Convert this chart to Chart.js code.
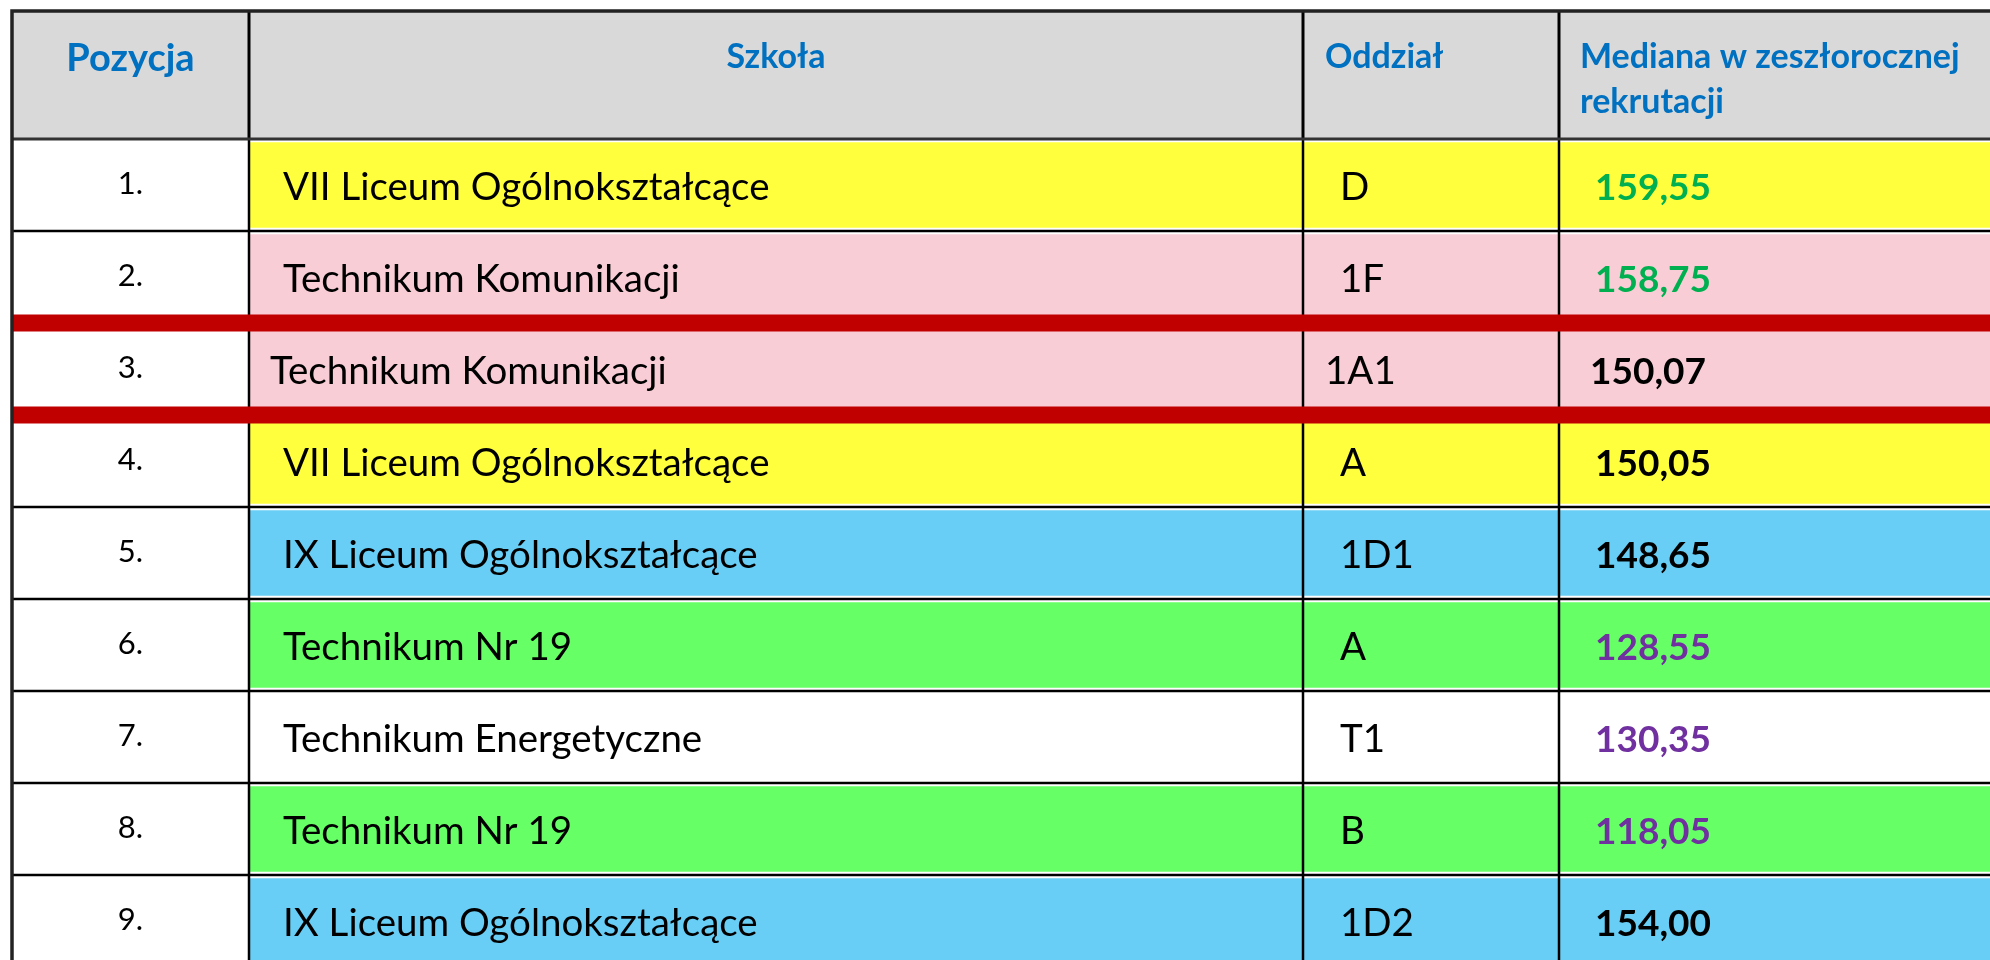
<!DOCTYPE html>
<html>
<head>
<meta charset="utf-8">
<script src="https://cdn.jsdelivr.net/npm/chart.js@4.4.1/dist/chart.umd.min.js"></script>
<style>
  html, body { margin: 0; padding: 0; background: #fff; }
  canvas { display: block; }
</style>
</head>
<body>
<canvas id="table" width="1990" height="960"></canvas>
<script>
// table content
const HEADERS = ["Pozycja", "Szkoła", "Oddział", "Mediana w zeszłorocznej\nrekrutacji"];
const POSITIONS = ["1.", "2.", "3.", "4.", "5.", "6.", "7.", "8.", "9."];
const SCHOOLS = [
  "VII Liceum Ogólnokształcące",
  "Technikum Komunikacji",
  "Technikum Komunikacji",
  "VII Liceum Ogólnokształcące",
  "IX Liceum Ogólnokształcące",
  "Technikum Nr 19",
  "Technikum Energetyczne",
  "Technikum Nr 19",
  "IX Liceum Ogólnokształcące"
];
const CLASSES = ["D", "1F", "1A1", "A", "1D1", "A", "T1", "B", "1D2"];
const MEDIANS = [159.55, 158.75, 150.07, 150.05, 148.65, 128.55, 130.35, 118.05, 154.00];
const MEDIAN_GROUP = ["top", "top", "mid", "mid", "mid", "low", "low", "low", "mid"];
const CUT_LINES = [2, 3]; // red lines above these rows (0-based)

// look
const SCHOOL_FILL = {
  "VII Liceum Ogólnokształcące": "#ffff3e",
  "Technikum Komunikacji": "#f8cdd6",
  "IX Liceum Ogólnokształcące": "#68cef5",
  "Technikum Nr 19": "#66ff66",
  "Technikum Energetyczne": "#ffffff"
};
const GROUP_COLOR = { top: "#00b050", mid: "#000000", low: "#7030a0" };
const HEAD_BG = "#d9d9d9";
const HEAD_TEXT = "#0070c0";
const CUT_COLOR = "#c00000";

// layout (px)
const W = 1990, H = 960;
const COL_EDGES = [12, 249, 1303, 1559, 2000];
const ROW_PX = 92, HEADER_PX = 128, TOP_PX = 11;
const HEADER_UNITS = HEADER_PX / ROW_PX;
const Y_MIN = -(HEADER_PX + TOP_PX) / ROW_PX;
const Y_MAX = Y_MIN + H / ROW_PX;
const PAD = [0, 34, 37, 36];
const ROW_SHIFT = { 2: [0, -13, -15, -5] };
const FONT = "Lato";

function fmt(v) {
  return v.toFixed(2).replace(".", ",");
}

const datasets = COL_EDGES.slice(0, 4).map((x0, c) => ({
  label: HEADERS[c],
  data: SCHOOLS.map((s, i) => ({ x: [x0, COL_EDGES[c + 1]], y: i + 0.5 })),
  backgroundColor: SCHOOLS.map(s => c === 0 ? "#ffffff" : SCHOOL_FILL[s]),
  borderWidth: 0,
  grouped: false,
  barPercentage: 1,
  categoryPercentage: 1
}));

const tablePlugin = {
  id: "tablePlugin",
  beforeDatasetsDraw(chart) {
    const { ctx, scales: { x, y } } = chart;
    ctx.save();
    ctx.fillStyle = HEAD_BG;
    ctx.fillRect(x.getPixelForValue(COL_EDGES[0]), y.getPixelForValue(-HEADER_UNITS),
      W, y.getPixelForValue(0) - y.getPixelForValue(-HEADER_UNITS));
    ctx.restore();
  },
  afterDatasetsDraw(chart) {
    const { ctx, scales: { x, y } } = chart;
    const left = x.getPixelForValue(COL_EDGES[0]);
    const top = y.getPixelForValue(-HEADER_UNITS);
    const headBottom = y.getPixelForValue(0);
    ctx.save();

    // grid
    ctx.strokeStyle = "#000";
    ctx.lineWidth = 2.5;
    for (let k = 1; k <= SCHOOLS.length; k++) {
      const py = y.getPixelForValue(k);
      ctx.beginPath(); ctx.moveTo(left, py); ctx.lineTo(W, py); ctx.stroke();
    }
    for (let c = 1; c < 4; c++) {
      const px = x.getPixelForValue(COL_EDGES[c]);
      ctx.lineWidth = 3;
      ctx.beginPath(); ctx.moveTo(px, top); ctx.lineTo(px, headBottom); ctx.stroke();
      ctx.lineWidth = 2.5;
      ctx.beginPath(); ctx.moveTo(px, headBottom); ctx.lineTo(px, H); ctx.stroke();
    }
    ctx.strokeStyle = "#333";
    ctx.lineWidth = 3;
    ctx.beginPath(); ctx.moveTo(left, headBottom); ctx.lineTo(W, headBottom); ctx.stroke();

    // red cut lines
    ctx.strokeStyle = CUT_COLOR;
    ctx.lineWidth = 17;
    CUT_LINES.forEach(k => {
      const py = y.getPixelForValue(k);
      ctx.beginPath(); ctx.moveTo(left, py); ctx.lineTo(W, py); ctx.stroke();
    });

    // outer border
    ctx.strokeStyle = "#222";
    ctx.lineWidth = 3.5;
    ctx.beginPath(); ctx.moveTo(W, top); ctx.lineTo(left, top); ctx.lineTo(left, H); ctx.stroke();

    // header text
    ctx.fillStyle = HEAD_TEXT;
    ctx.textBaseline = "alphabetic";
    ctx.font = `bold 38px ${FONT}`;
    ctx.textAlign = "center";
    ctx.fillText(HEADERS[0], x.getPixelForValue((COL_EDGES[0] + COL_EDGES[1]) / 2), top + 60);
    ctx.font = `bold 34px ${FONT}`;
    ctx.fillText(HEADERS[1], x.getPixelForValue((COL_EDGES[1] + COL_EDGES[2]) / 2), top + 57);
    ctx.textAlign = "left";
    ctx.fillText(HEADERS[2], x.getPixelForValue(COL_EDGES[2]) + 22, top + 57);
    HEADERS[3].split("\n").forEach((line, j) => {
      ctx.fillText(line, x.getPixelForValue(COL_EDGES[3]) + 21, top + 57 + j * 45);
    });

    // body text
    SCHOOLS.forEach((s, i) => {
      const shift = ROW_SHIFT[i] || [0, 0, 0, 0];
      const base = y.getPixelForValue(i + 0.66);
      ctx.fillStyle = "#000";
      ctx.textAlign = "center";
      ctx.font = `31px ${FONT}`;
      ctx.fillText(POSITIONS[i], x.getPixelForValue((COL_EDGES[0] + COL_EDGES[1]) / 2), y.getPixelForValue(i + 0.6));
      ctx.textAlign = "left";
      ctx.font = `38.5px ${FONT}`;
      ctx.fillText(s, x.getPixelForValue(COL_EDGES[1]) + PAD[1] + shift[1], base);
      ctx.fillText(CLASSES[i], x.getPixelForValue(COL_EDGES[2]) + PAD[2] + shift[2], base);
      ctx.font = `bold 37px ${FONT}`;
      ctx.fillStyle = GROUP_COLOR[MEDIAN_GROUP[i]];
      ctx.fillText(fmt(MEDIANS[i]), x.getPixelForValue(COL_EDGES[3]) + PAD[3] + shift[3], base);
    });
    ctx.restore();
  }
};

new Chart(document.getElementById("table").getContext("2d"), {
  type: "bar",
  data: { labels: POSITIONS, datasets: datasets },
  options: {
    indexAxis: "y",
    responsive: false,
    animation: false,
    devicePixelRatio: 1,
    layout: { padding: 0 },
    plugins: { legend: { display: false }, tooltip: { enabled: false } },
    scales: {
      x: { type: "linear", min: 0, max: W, offset: false, display: false },
      y: { type: "linear", min: Y_MIN, max: Y_MAX, reverse: true, offset: false, display: false }
    }
  },
  plugins: [tablePlugin]
});
</script>
</body>
</html>
